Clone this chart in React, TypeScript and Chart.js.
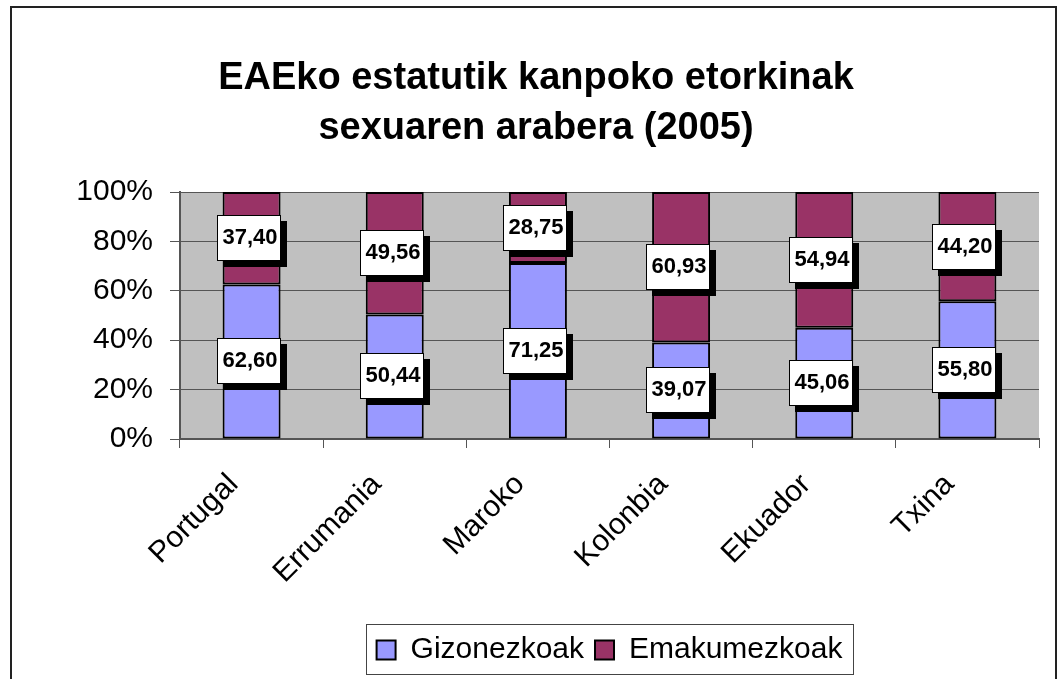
import React, { useEffect, useRef } from 'react';
import { Chart, registerables } from 'chart.js';

Chart.register(...registerables);

const TITLE_LINES = ['EAEko estatutik kanpoko etorkinak', 'sexuaren arabera (2005)'];
const CATEGORIES = ['Portugal', 'Errumania', 'Maroko', 'Kolonbia', 'Ekuador', 'Txina'];
const SERIES_NAMES = ['Gizonezkoak', 'Emakumezkoak'];
const GIZONEZKOAK = [62.6, 50.44, 71.25, 39.07, 45.06, 55.8];
const EMAKUMEZKOAK = [37.4, 49.56, 28.75, 60.93, 54.94, 44.2];
const Y_MIN = 0;
const Y_MAX = 100;
const Y_STEP = 20;

const FONT = '"Liberation Sans", Arial, sans-serif';

const framePlugin = {
  id: 'frame',
  beforeDraw(chart: any) {
    const { ctx, chartArea } = chart;
    ctx.save();
    ctx.fillStyle = '#ffffff';
    ctx.fillRect(0, 0, chart.width, chart.height);
    ctx.fillStyle = '#c0c0c0';
    ctx.fillRect(chartArea.left, chartArea.top, chartArea.right - chartArea.left, chartArea.bottom - chartArea.top);
    ctx.strokeStyle = '#222222';
    ctx.lineWidth = 2;
    ctx.strokeRect(11, 7, 1045, 800);
    ctx.fillStyle = '#000000';
    ctx.font = `bold 38px ${FONT}`;
    ctx.textAlign = 'center';
    ctx.textBaseline = 'middle';
    ctx.fillText(TITLE_LINES[0], 536, 79);
    ctx.fillText(TITLE_LINES[1], 536, 129);
    ctx.restore();
  },
  afterDraw(chart: any) {
    const legend = chart.legend;
    if (!legend || !legend.legendHitBoxes || !legend.legendHitBoxes.length) return;
    const boxes = legend.legendHitBoxes;
    const first = boxes[0];
    const last = boxes[boxes.length - 1];
    const { ctx } = chart;
    ctx.save();
    ctx.strokeStyle = '#444444';
    ctx.lineWidth = 1;
    const l = Math.round(first.left - 11) + 0.5;
    const r = Math.round(last.left + last.width + 11) + 0.5;
    const t = Math.round(legend.top) + 0.5;
    const b = Math.round(legend.bottom) - 0.5;
    ctx.strokeRect(l, t, r - l, b - t);
    ctx.restore();
  },
};

const labelPlugin = {
  id: 'boxLabels',
  afterDatasetsDraw(chart: any) {
    const { ctx } = chart;
    ctx.save();
    chart.data.datasets.forEach((ds: any, di: number) => {
      const meta = chart.getDatasetMeta(di);
      meta.data.forEach((bar: any, i: number) => {
        const v = ds.data[i];
        const cx = bar.x - 3;
        const cy = (bar.y + bar.base) / 2;
        const w = 64;
        const h = 46;
        const x = Math.round(cx - w / 2);
        const y = Math.round(cy - h / 2);
        ctx.fillStyle = '#000000';
        ctx.fillRect(x + 6, y + 6, w, h);
        ctx.fillStyle = '#ffffff';
        ctx.fillRect(x, y, w, h);
        ctx.strokeStyle = '#000000';
        ctx.lineWidth = 1;
        ctx.strokeRect(x + 0.5, y + 0.5, w - 1, h - 1);
        ctx.fillStyle = '#000000';
        ctx.font = `bold 22px ${FONT}`;
        ctx.textAlign = 'center';
        ctx.textBaseline = 'middle';
        ctx.fillText(v.toFixed(2).replace('.', ','), x + w / 2 + 1, y + h / 2);
      });
    });
    ctx.restore();
  },
};

export default function App() {
  const ref = useRef<HTMLCanvasElement | null>(null);

  useEffect(() => {
    if (!ref.current) return;
    const chart = new Chart(ref.current, {
      type: 'bar',
      data: {
        labels: CATEGORIES,
        datasets: [
          {
            label: SERIES_NAMES[0],
            data: GIZONEZKOAK,
            backgroundColor: '#9999ff',
            borderColor: '#000000',
            borderWidth: 2,
            borderSkipped: false,
            barPercentage: 0.405,
            categoryPercentage: 1,
          },
          {
            label: SERIES_NAMES[1],
            data: EMAKUMEZKOAK,
            backgroundColor: '#993366',
            borderColor: '#000000',
            borderWidth: 2,
            borderSkipped: false,
            barPercentage: 0.405,
            categoryPercentage: 1,
          },
        ],
      },
      options: {
        responsive: false,
        animation: false,
        layout: { padding: { top: 192, left: 0, right: 24, bottom: 4 } },
        plugins: {
          title: { display: false },
          tooltip: { enabled: false },
          legend: {
            display: true,
            position: 'bottom',
            fullSize: false,
            labels: {
              color: '#000000',
              font: { family: FONT, size: 30 },
              boxWidth: 19,
              boxHeight: 19,
              padding: 11,
            },
          },
        },
        scales: {
          x: {
            stacked: true,
            offset: true,
            grid: {
              display: true,
              drawOnChartArea: false,
              drawTicks: true,
              tickLength: 9,
              color: '#555555',
              offset: true,
            },
            border: { display: true, color: '#555555', width: 2 },
            ticks: {
              color: '#000000',
              font: { family: FONT, size: 30 },
              minRotation: 45,
              maxRotation: 45,
              padding: 19,
              labelOffset: -18,
              autoSkip: false,
            },
            afterFit(scale: any) {
              scale.height = 185;
            },
          },
          y: {
            stacked: true,
            min: Y_MIN,
            max: Y_MAX,
            grid: {
              display: true,
              drawOnChartArea: true,
              drawTicks: true,
              tickLength: 10,
              color: '#555555',
              lineWidth: 1,
            },
            border: { display: true, color: '#555555', width: 2 },
            ticks: {
              stepSize: Y_STEP,
              color: '#000000',
              font: { family: FONT, size: 30 },
              padding: 17,
              callback: (v: any) => `${v}%`,
            },
            afterFit(scale: any) {
              scale.width = 180;
            },
          },
        },
      },
      plugins: [framePlugin, labelPlugin],
    });
    return () => chart.destroy();
  }, []);

  return (
    <div style={{ position: 'absolute', left: 0, top: 0, width: 1063, height: 679 }}>
      <canvas ref={ref} width={1063} height={679} style={{ display: 'block' }} />
    </div>
  );
}
